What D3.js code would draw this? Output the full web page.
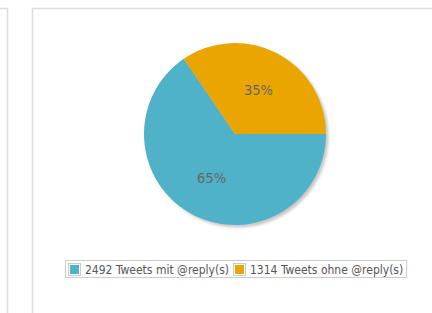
<!DOCTYPE html>
<head>
  <meta charset="utf-8">
  <script src="https://d3js.org/d3.v7.min.js"></script>
  <style>
    body { margin:0; background:#fff; }
    .sliceLabel { font-family: "DejaVu Sans Condensed", "Liberation Sans Narrow", sans-serif; font-size:14.5px; fill:#666; }
    .legendText { font-family: "DejaVu Sans Condensed", "Liberation Sans", sans-serif; font-size:12px; fill:#555; }
  </style>
</head>
<body>
  <script>
    var width = 432, height = 313;

    // data
    var categories = ["Tweets mit @reply(s)", "Tweets ohne @reply(s)"];
    var counts = [2492, 1314];
    var colors = ["#50b2c8", "#eaa500"];

    var cx = 235, cy = 134, radius = 91;

    var svg = d3.select("body").append("svg")
      .attr("width", width)
      .attr("height", height);

    // panel borders
    var border = svg.append("g").attr("fill", "none").attr("stroke", "#dcdcdc").attr("stroke-width", 1.5);
    border.append("path").attr("d", "M0,8.5 H7.5 V313");
    border.append("path").attr("d", "M32.5,313 V8.5 H432");

    var defs = svg.append("defs");
    defs.append("filter").attr("id", "blur")
      .attr("x", "-20%").attr("y", "-20%").attr("width", "140%").attr("height", "140%")
      .append("feGaussianBlur").attr("stdDeviation", 1.8);

    var total = d3.sum(counts);
    var data = counts.map(function(v, i){ return {name: categories[i], value: v, color: colors[i]}; });

    var pie = d3.pie()
      .value(function(d){ return d.value; })
      .sort(null)
      .startAngle(Math.PI / 2)
      .endAngle(Math.PI / 2 + 2 * Math.PI);

    var arc = d3.arc().innerRadius(0).outerRadius(radius);
    var labelArc = d3.arc().innerRadius(radius * 0.55).outerRadius(radius * 0.55);

    var g = svg.append("g").attr("transform", "translate(" + cx + "," + cy + ")");

    // shadow
    g.append("circle")
      .attr("cx", 2.5).attr("cy", 2.5).attr("r", radius)
      .attr("fill", "#000").attr("opacity", 0.22)
      .attr("filter", "url(#blur)");

    var arcs = pie(data);

    g.selectAll(".slice").data(arcs).enter()
      .append("path")
      .attr("class", "slice")
      .attr("d", arc)
      .attr("fill", function(d){ return d.data.color; });

    g.selectAll(".sliceLabel").data(arcs).enter()
      .append("text")
      .attr("class", "sliceLabel")
      .attr("transform", function(d){ return "translate(" + labelArc.centroid(d) + ")"; })
      .attr("text-anchor", "middle")
      .attr("dy", "0.35em")
      .text(function(d){ return Math.round(d.data.value / total * 100) + "%"; });

    // legend
    var legend = svg.append("g").attr("transform", "translate(65,260)");
    var legendBox = legend.append("rect")
      .attr("x", 0.5).attr("y", 0.5).attr("height", 17)
      .attr("fill", "#fff").attr("stroke", "#ccc");

    var xPos = 3;
    data.forEach(function(d){
      var item = legend.append("g").attr("transform", "translate(" + xPos + ",0)");
      item.append("rect").attr("x", 0.5).attr("y", 3.5).attr("width", 12).attr("height", 12)
        .attr("fill", "#fff").attr("stroke", "#ccc");
      item.append("rect").attr("x", 2).attr("y", 5).attr("width", 9).attr("height", 9)
        .attr("fill", d.color);
      var t = item.append("text").attr("class", "legendText")
        .attr("x", 17).attr("y", 13.5)
        .text(d.value + " " + d.name);
      xPos += 17 + t.node().getComputedTextLength() + 4;
    });
    legendBox.attr("width", xPos - 1);
  </script>
</body>
